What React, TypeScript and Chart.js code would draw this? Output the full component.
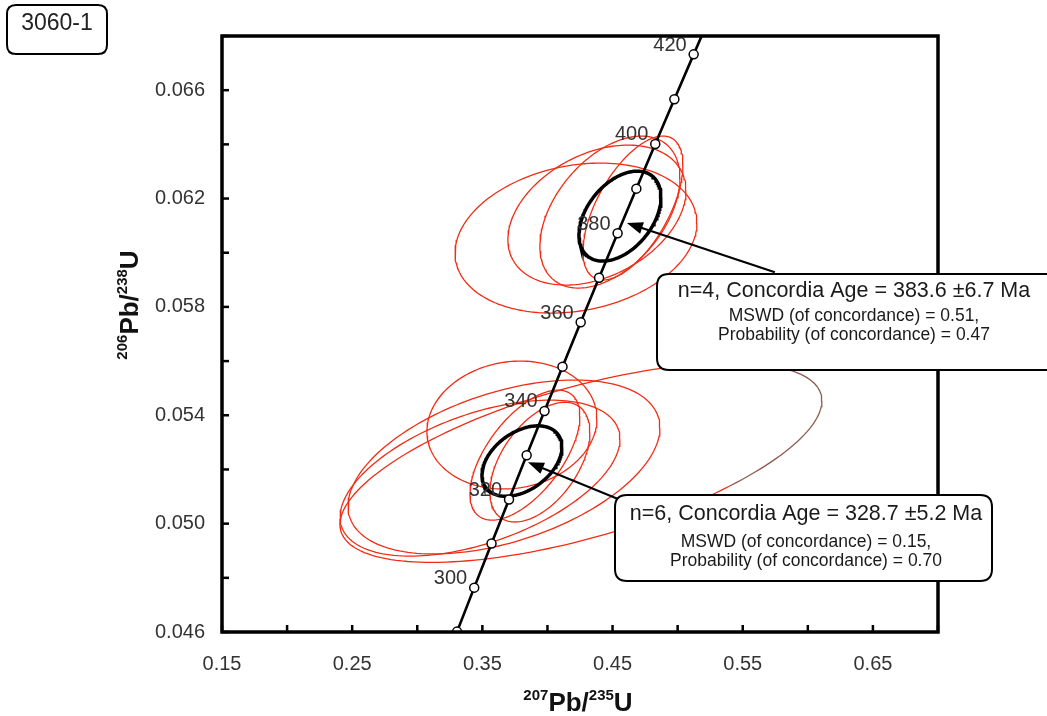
import React, { useEffect, useRef } from "react";
import { Chart, registerables } from "chart.js";

Chart.register(...registerables);

// ---------- axis ranges / ticks ----------
const xRange = [0.15, 0.7];
const yRange = [0.046, 0.068];
const xStep = 0.05;
const yStep = 0.002;

// ---------- concordia curve (ratios at 10 Ma steps) ----------
const concordiaAges = [290, 300, 310, 320, 330, 340, 350, 360, 370, 380, 390, 400, 410, 420, 430];
const concordiaX = [0.33056, 0.34374, 0.35704, 0.37047, 0.38403, 0.39773, 0.41156, 0.42553, 0.43964, 0.45389, 0.46828, 0.48281, 0.49749, 0.51231, 0.52728];
const concordiaY = [0.046014, 0.047637, 0.049264, 0.050893, 0.052524, 0.054159, 0.055795, 0.057434, 0.059075, 0.06072, 0.062366, 0.064015, 0.065668, 0.067322, 0.068979];
const labelledAges = [300, 320, 340, 360, 380, 400, 420];

// ---------- analysis error ellipses: centre, half-widths, correlation ----------
const upperCx = [0.4219, 0.438, 0.448, 0.4657];
const upperCy = [0.06054, 0.06139, 0.0615, 0.06165];
const upperSx = [0.0929, 0.0684, 0.0538, 0.0384];
const upperSy = [0.002768, 0.002583, 0.002804, 0.002657];
const upperRho = [0.2, 0.35, 0.45, 0.6];

const lowerCx = [0.3727, 0.3827, 0.3666, 0.4257, 0.3482, 0.3942];
const lowerCy = [0.05364, 0.05253, 0.05209, 0.05225, 0.05168, 0.05227];
const lowerSx = [0.0653, 0.0422, 0.1198, 0.1851, 0.1075, 0.0384];
const lowerSy = [0.00236, 0.0024, 0.00321, 0.00368, 0.00288, 0.00221];
const lowerRho = [0.1, 0.6, 0.45, 0.62, 0.5, 0.5];
const brownFromX = 0.535; // part of the wide ellipse drawn brown

// ---------- concordia-age ellipses ----------
const meanCx = [0.4557, 0.3804];
const meanCy = [0.06135, 0.05231];
const meanSx = [0.0315, 0.0307];
const meanSy = [0.00166, 0.0013];
const meanRho = [0.42, 0.4];

// ---------- annotation texts ----------
const sampleName = "3060-1";
const upperBoxLines = ["n=4, Concordia Age = 383.6 \u00b16.7 Ma", "MSWD (of concordance) = 0.51,", "Probability (of concordance) = 0.47"];
const lowerBoxLines = ["n=6, Concordia Age = 328.7 \u00b15.2 Ma", "MSWD (of concordance) = 0.15,", "Probability (of concordance) = 0.70"];
const upperArrowHead = [0.461, 0.0611];
const upperArrowTail = [0.5747, 0.05928];
const lowerArrowHead = [0.385, 0.05227];
const lowerArrowTail = [0.4618, 0.05076];

const FONT = '"Liberation Sans", Arial, Helvetica, sans-serif';
const RED = "#f22c14";
const BROWN = "#8c5a4f";

function ellipsePoints(cx: number, cy: number, sx: number, sy: number, rho: number, n = 180) {
  const pts: { x: number; y: number }[] = [];
  const k = Math.sqrt(1 - rho * rho);
  for (let i = 0; i <= n; i++) {
    const t = (i / n) * Math.PI * 2;
    const c = Math.cos(t);
    const s = Math.sin(t);
    pts.push({ x: cx + sx * c, y: cy + sy * (rho * c + k * s) });
  }
  return pts;
}

function roundRect(ctx: CanvasRenderingContext2D, x: number, y: number, w: number, h: number, r: number) {
  ctx.beginPath();
  ctx.moveTo(x + r, y);
  ctx.lineTo(x + w - r, y);
  ctx.quadraticCurveTo(x + w, y, x + w, y + r);
  ctx.lineTo(x + w, y + h - r);
  ctx.quadraticCurveTo(x + w, y + h, x + w - r, y + h);
  ctx.lineTo(x + r, y + h);
  ctx.quadraticCurveTo(x, y + h, x, y + h - r);
  ctx.lineTo(x, y + r);
  ctx.quadraticCurveTo(x, y, x + r, y);
  ctx.closePath();
}

function drawTitle(ctx: CanvasRenderingContext2D, x: number, y: number, rot: number, parts: { t: string; sup: boolean }[]) {
  ctx.save();
  ctx.translate(x, y);
  ctx.rotate(rot);
  const big = `bold 26px ${FONT}`;
  const small = `bold 15px ${FONT}`;
  let total = 0;
  const widths = parts.map((p) => {
    ctx.font = p.sup ? small : big;
    const w = ctx.measureText(p.t).width;
    total += w;
    return w;
  });
  let cx = -total / 2;
  ctx.textAlign = "left";
  ctx.textBaseline = "alphabetic";
  ctx.fillStyle = "#111";
  parts.forEach((p, i) => {
    ctx.font = p.sup ? small : big;
    ctx.fillText(p.t, cx, p.sup ? -11 : 0);
    cx += widths[i];
  });
  ctx.restore();
}

function drawArrow(ctx: CanvasRenderingContext2D, x0: number, y0: number, x1: number, y1: number) {
  const ang = Math.atan2(y1 - y0, x1 - x0);
  const len = 16;
  const hw = 6;
  ctx.save();
  ctx.strokeStyle = "#000";
  ctx.fillStyle = "#000";
  ctx.lineWidth = 2;
  ctx.beginPath();
  ctx.moveTo(x0, y0);
  ctx.lineTo(x1 - Math.cos(ang) * len * 0.8, y1 - Math.sin(ang) * len * 0.8);
  ctx.stroke();
  ctx.beginPath();
  ctx.moveTo(x1, y1);
  ctx.lineTo(x1 - Math.cos(ang) * len - Math.sin(ang) * hw, y1 - Math.sin(ang) * len + Math.cos(ang) * hw);
  ctx.lineTo(x1 - Math.cos(ang) * len + Math.sin(ang) * hw, y1 - Math.sin(ang) * len - Math.cos(ang) * hw);
  ctx.closePath();
  ctx.fill();
  ctx.restore();
}

function drawBox(ctx: CanvasRenderingContext2D, x: number, y: number, w: number, h: number, cxText: number, lines: string[], ys: number[]) {
  ctx.save();
  roundRect(ctx, x, y, w, h, 12);
  ctx.fillStyle = "#fff";
  ctx.fill();
  ctx.lineWidth = 2;
  ctx.strokeStyle = "#000";
  ctx.stroke();
  ctx.fillStyle = "#1a1a1a";
  ctx.textAlign = "center";
  ctx.textBaseline = "middle";
  lines.forEach((l, i) => {
    ctx.font = i === 0 ? `21.5px ${FONT}` : `17.5px ${FONT}`;
    ctx.fillText(l, cxText, ys[i]);
  });
  ctx.restore();
}

const framePlugin = {
  id: "frameTicks",
  afterDatasetsDraw(chart: any) {
    const { ctx, chartArea: a, scales } = chart;
    const xs = scales.x;
    const ys = scales.y;
    ctx.save();
    // concordia age labels
    ctx.fillStyle = "#333";
    ctx.font = `20px ${FONT}`;
    ctx.textAlign = "right";
    ctx.textBaseline = "middle";
    labelledAges.forEach((age) => {
      const i = concordiaAges.indexOf(age);
      const px = xs.getPixelForValue(concordiaX[i]);
      const py = ys.getPixelForValue(concordiaY[i]);
      ctx.fillText(String(age), px - 7, py - 9);
    });
    // inward ticks
    ctx.strokeStyle = "#000";
    ctx.lineWidth = 2.5;
    xs.ticks.forEach((t: any) => {
      const px = xs.getPixelForValue(t.value);
      ctx.beginPath();
      ctx.moveTo(px, a.bottom);
      ctx.lineTo(px, a.bottom - 7);
      ctx.stroke();
    });
    ys.ticks.forEach((t: any) => {
      const py = ys.getPixelForValue(t.value);
      ctx.beginPath();
      ctx.moveTo(a.left, py);
      ctx.lineTo(a.left + 7, py);
      ctx.stroke();
    });
    ctx.lineWidth = 3.5;
    ctx.strokeRect(a.left, a.top, a.right - a.left, a.bottom - a.top);
    ctx.restore();
  },
  afterDraw(chart: any) {
    const { ctx, chartArea: a, scales } = chart;
    const xs = scales.x;
    const ys = scales.y;
    // arrows
    drawArrow(ctx, xs.getPixelForValue(upperArrowTail[0]), ys.getPixelForValue(upperArrowTail[1]), xs.getPixelForValue(upperArrowHead[0]), ys.getPixelForValue(upperArrowHead[1]));
    drawArrow(ctx, xs.getPixelForValue(lowerArrowTail[0]), ys.getPixelForValue(lowerArrowTail[1]), xs.getPixelForValue(lowerArrowHead[0]), ys.getPixelForValue(lowerArrowHead[1]));
    // callout boxes
    drawBox(ctx, 657, 274, 400, 96, 854, upperBoxLines, [291, 316, 335]);
    drawBox(ctx, 615, 495, 377, 86, 806, lowerBoxLines, [514, 542, 561]);
    // sample name box
    ctx.save();
    roundRect(ctx, 7, 5, 100, 49, 9);
    ctx.lineWidth = 2;
    ctx.strokeStyle = "#000";
    ctx.stroke();
    ctx.fillStyle = "#222";
    ctx.font = `23px ${FONT}`;
    ctx.textAlign = "center";
    ctx.textBaseline = "middle";
    ctx.fillText(sampleName, 57, 24);
    ctx.restore();
    // axis titles
    drawTitle(ctx, (a.left + a.right) / 2 - 2, 711, 0, [
      { t: "207", sup: true },
      { t: "Pb/", sup: false },
      { t: "235", sup: true },
      { t: "U", sup: false },
    ]);
    drawTitle(ctx, 138, 305, -Math.PI / 2, [
      { t: "206", sup: true },
      { t: "Pb/", sup: false },
      { t: "238", sup: true },
      { t: "U", sup: false },
    ]);
  },
};

export default function App() {
  const canvasRef = useRef<HTMLCanvasElement | null>(null);

  useEffect(() => {
    const canvas = canvasRef.current;
    if (!canvas) return;

    const datasets: any[] = [];
    upperCx.forEach((_, i) => {
      datasets.push({
        data: ellipsePoints(upperCx[i], upperCy[i], upperSx[i], upperSy[i], upperRho[i]),
        showLine: true,
        borderColor: RED,
        borderWidth: 1.3,
        pointRadius: 0,
        order: 3,
      });
    });
    lowerCx.forEach((_, i) => {
      datasets.push({
        data: ellipsePoints(lowerCx[i], lowerCy[i], lowerSx[i], lowerSy[i], lowerRho[i]),
        showLine: true,
        borderColor: RED,
        borderWidth: 1.3,
        pointRadius: 0,
        order: 3,
        segment: {
          borderColor: (c: any) => (c.p0.parsed.x > brownFromX && c.p1.parsed.x > brownFromX ? BROWN : RED),
        },
      });
    });
    meanCx.forEach((_, i) => {
      datasets.push({
        data: ellipsePoints(meanCx[i], meanCy[i], meanSx[i], meanSy[i], meanRho[i]),
        showLine: true,
        borderColor: "#000",
        borderWidth: 3.5,
        pointRadius: 0,
        order: 2,
      });
    });
    datasets.push({
      data: concordiaAges.map((_, i) => ({ x: concordiaX[i], y: concordiaY[i] })),
      showLine: true,
      borderColor: "#000",
      borderWidth: 2.6,
      pointRadius: 4.5,
      pointBackgroundColor: "#fff",
      pointBorderColor: "#000",
      pointBorderWidth: 1.5,
      order: 1,
    });

    const chart = new Chart(canvas, {
      type: "scatter",
      data: { datasets },
      options: {
        animation: false,
        responsive: false,
        devicePixelRatio: 1,
        layout: { padding: { left: 0, top: 36, right: 109, bottom: 0 } },
        plugins: { legend: { display: false }, tooltip: { enabled: false } },
        scales: {
          x: {
            type: "linear",
            min: xRange[0],
            max: xRange[1],
            grid: { display: false, drawTicks: false },
            border: { display: false },
            afterFit: (s: any) => {
              s.height = 84;
            },
            ticks: {
              stepSize: xStep,
              autoSkip: false,
              maxRotation: 0,
              padding: 20,
              color: "#333",
              font: { family: FONT, size: 20 },
              callback: (v: any) => {
                const idx = Math.round((Number(v) - xRange[0]) / xStep);
                return idx % 2 === 0 ? Number(v).toFixed(2) : "";
              },
            },
          },
          y: {
            type: "linear",
            min: yRange[0],
            max: yRange[1],
            grid: { display: false, drawTicks: false },
            border: { display: false },
            afterFit: (s: any) => {
              s.width = 222;
            },
            ticks: {
              stepSize: yStep,
              autoSkip: false,
              padding: 17,
              color: "#333",
              font: { family: FONT, size: 20 },
              callback: (v: any) => {
                const idx = Math.round((Number(v) - yRange[0]) / yStep);
                return idx % 2 === 0 ? Number(v).toFixed(3) : "";
              },
            },
          },
        },
      },
      plugins: [framePlugin],
    } as any);

    return () => chart.destroy();
  }, []);

  return (
    <div style={{ position: "fixed", left: 0, top: 0, width: 1047, height: 716, background: "#fff" }}>
      <canvas ref={canvasRef} width={1047} height={716} style={{ display: "block" }} />
    </div>
  );
}
